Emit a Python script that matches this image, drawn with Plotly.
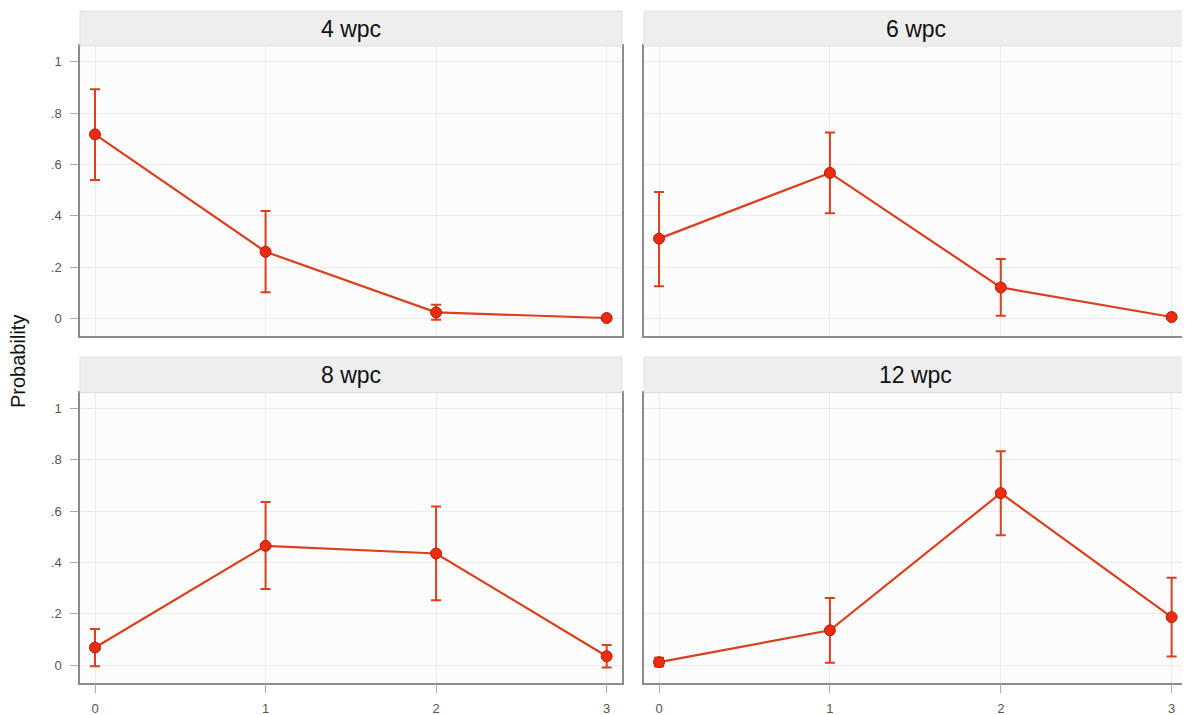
import plotly.graph_objects as go

# ---- data ----
panels = ["4 wpc", "6 wpc", "8 wpc", "12 wpc"]
x_vals = [0, 1, 2, 3]
prob_4wpc = [0.717, 0.260, 0.024, 0.002]
lo_4wpc = [0.539, 0.102, -0.005, 0.000]
hi_4wpc = [0.893, 0.419, 0.054, 0.005]

prob_6wpc = [0.311, 0.567, 0.121, 0.006]
lo_6wpc = [0.126, 0.410, 0.011, 0.001]
hi_6wpc = [0.493, 0.724, 0.232, 0.011]

prob_8wpc = [0.069, 0.465, 0.435, 0.035]
lo_8wpc = [-0.004, 0.297, 0.253, -0.009]
hi_8wpc = [0.141, 0.635, 0.618, 0.079]

prob_12wpc = [0.012, 0.136, 0.670, 0.187]
lo_12wpc = [-0.005, 0.010, 0.506, 0.034]
hi_12wpc = [0.029, 0.262, 0.833, 0.341]

y_tickvals = [0, 0.2, 0.4, 0.6, 0.8, 1]
y_ticktext = ["0", ".2", ".4", ".6", ".8", "1"]
x_ticktext = ["0", "1", "2", "3"]

series = [
    (prob_4wpc, lo_4wpc, hi_4wpc),
    (prob_6wpc, lo_6wpc, hi_6wpc),
    (prob_8wpc, lo_8wpc, hi_8wpc),
    (prob_12wpc, lo_12wpc, hi_12wpc),
]

# ---- styling ----
OFF = 8  # default body margin of the html page
W, H = 1190 - OFF, 715 - OFF
LINE = "#d8401e"
MFILL = "#ee2a10"
MEDGE = "#a82410"
GRID = "#ebebeb"
BORDER = "#8c8c8c"
TICKFONT = dict(family="Liberation Sans, Arial", size=13, color="#555555")


def px_x(v):
    return (v - OFF) / W


def px_y(v):
    return 1 - (v - OFF) / H


xdoms = [(px_x(80), px_x(622)), (px_x(644), px_x(1187))]
ydoms = [(px_y(336), px_y(46)), (px_y(682.7), px_y(392.7))]
strip_tops = [px_y(11), px_y(357)]

fig = go.Figure()
shapes = []
annotations = []

for i, (name, (p, lo, hi)) in enumerate(zip(panels, series)):
    r, c = divmod(i, 2)
    ax = "" if i == 0 else str(i + 1)
    xa, ya = "x" + ax, "y" + ax
    fig.add_trace(go.Scatter(
        x=x_vals, y=p, xaxis=xa, yaxis=ya, mode="lines+markers",
        line=dict(color=LINE, width=2.2),
        marker=dict(size=11, color=MFILL, line=dict(color=MEDGE, width=1)),
        error_y=dict(type="data", symmetric=False,
                     array=[h - v for h, v in zip(hi, p)],
                     arrayminus=[v - l for v, l in zip(p, lo)],
                     color=LINE, thickness=2, width=5),
        showlegend=False, cliponaxis=False,
    ))
    xkey = "xaxis" + ax
    ykey = "yaxis" + ax
    fig.layout[xkey] = dict(
        domain=list(xdoms[c]), range=[-0.088, 3.09], anchor=ya,
        tickvals=x_vals, ticktext=x_ticktext,
        showticklabels=(r == 1), ticks="outside" if r == 1 else "",
        ticklen=9, tickcolor="#aaaaaa", tickwidth=1,
        showgrid=True, gridcolor=GRID, gridwidth=1, zeroline=False,
        showline=True, mirror=True, linecolor=BORDER, linewidth=1.5,
        tickfont=TICKFONT, ticklabelstandoff=4,
    )
    fig.layout[ykey] = dict(
        domain=list(ydoms[r]), range=[-0.068, 1.061], anchor=xa,
        tickvals=y_tickvals, ticktext=y_ticktext,
        showticklabels=(c == 0), ticks="outside" if c == 0 else "",
        ticklen=8, tickcolor="#aaaaaa", tickwidth=1,
        showgrid=True, gridcolor=GRID, gridwidth=1, zeroline=False,
        showline=True, mirror=True, linecolor=BORDER, linewidth=1.5,
        tickfont=TICKFONT, ticklabelstandoff=6,
    )
    # plot background
    shapes.append(dict(type="rect", xref="paper", yref="paper", layer="below",
                       x0=xdoms[c][0], x1=xdoms[c][1], y0=ydoms[r][0], y1=ydoms[r][1],
                       fillcolor="#fcfcfc", line=dict(width=0)))
    # strip header
    top = strip_tops[r]
    shapes.append(dict(type="rect", xref="paper", yref="paper",
                       x0=xdoms[c][0], x1=xdoms[c][1],
                       y0=ydoms[r][1], y1=top,
                       fillcolor="#eeeeee", line=dict(color="#dde3e8", width=1)))
    annotations.append(dict(text=name, xref="paper", yref="paper",
                            x=(xdoms[c][0] + xdoms[c][1]) / 2,
                            y=(ydoms[r][1] + top) / 2,
                            showarrow=False, xanchor="center", yanchor="middle",
                            font=dict(family="Liberation Sans, Arial",
                                      size=23, color="#111111")))

annotations.append(dict(text="Probability", xref="paper", yref="paper",
                        x=px_x(18), y=px_y(362), textangle=-90, showarrow=False,
                        xanchor="center", yanchor="middle",
                        font=dict(family="Liberation Sans, Arial", size=20, color="#111111")))

fig.update_layout(
    width=W, height=H, margin=dict(l=0, r=0, t=0, b=0),
    paper_bgcolor="white", plot_bgcolor="rgba(0,0,0,0)",
    shapes=shapes, annotations=annotations,
)

fig.write_html("out.html")
